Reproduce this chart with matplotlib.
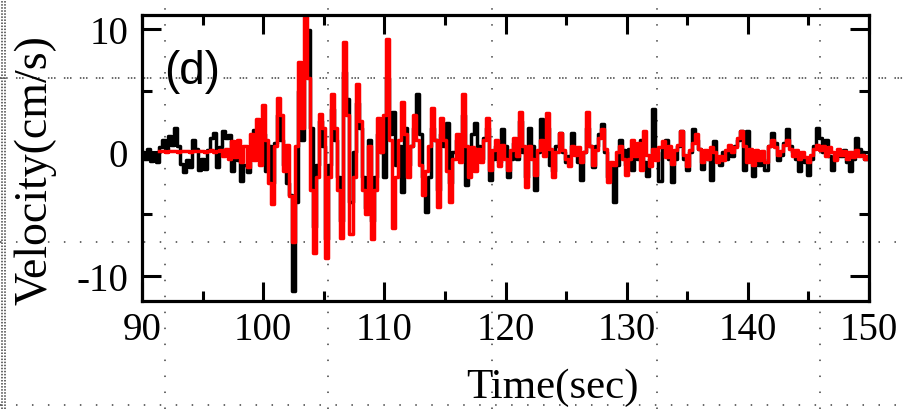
import numpy as np
import matplotlib
matplotlib.use("Agg")
import matplotlib.pyplot as plt
from matplotlib.lines import Line2D
from matplotlib.ticker import MultipleLocator

plt.rcParams['axes.unicode_minus'] = False
plt.rcParams['lines.scale_dashes'] = False

# time axis, 0.25 s samples
time = np.arange(90.0, 150.01, 0.25)

# black trace (cm/s), one row per 5 s
black_vel = [
    0.0, -0.5, 0.3, -0.7, -0.2, -0.8, 0.4, 1.0, 0.2, 1.3, 0.6, 2.0, 0.5, -0.9, -1.6, -0.6, -1.2, 1.0, 0.3, -1.4,
    -0.5, -1.3, 0.2, 1.2, 1.6, -1.2, 0.4, 1.7, 1.2, 1.4, -1.5, 0.8, -0.6, -2.3, -1.0, -1.6, 0.5, 1.8, 1.2, 2.0,
    1.5, -1.5, 0.5, -2.5, 0.8, 3.0, 1.0, -1.0, -2.5, -3.4, -11.2, -4.0, 5.0, 1.0, 7.0, 9.9, 2.0, -6.0, -1.0, 2.5,
    0.5, -7.0, -1.0, 3.5, 1.0, -2.0, -5.5, 6.5, 4.3, -4.0, 0.0, 4.0, 2.0, -2.0, -4.5, 1.0, -5.5, -2.0, 1.5, 0.0,
    -2.0, 6.0, 1.5, 3.3, -1.0, 0.5, -3.2, 2.0, -1.0, 0.5, 2.0, 4.7, 1.5, -2.0, -4.8, -2.0, 2.0, 1.0, -3.0, 1.5,
    0.5, 2.4, -2.5, 0.0, 1.0, -0.5, 3.0, -2.6, -1.0, 1.5, 2.4, 0.5, -0.5, 1.2, 2.0, -2.2, -0.5, 0.5, -0.8, 1.9,
    0.5, -2.0, -0.5, 0.8, -0.5, 2.5, 0.0, -2.0, 2.0, 0.5, -3.0, 0.0, 2.7, 0.5, 2.0, -1.0, -1.5, 0.5, 1.6, 0.0,
    -0.8, -0.3, 1.6, 0.2, -0.8, -2.2, 0.0, 2.0, 0.5, -1.2, 0.5, 1.5, 2.3, 0.0, -2.0, -1.0, -4.0, -1.0, 1.0, 0.2,
    -1.0, 0.3, -1.4, 0.5, -0.5, 1.0, -0.8, -1.9, -0.5, 3.5, 0.0, -2.3, 0.5, 1.0, -0.5, -2.4, -0.5, 0.5, 1.7, -0.5,
    -1.4, 0.0, 1.9, 1.0, 0.3, -1.3, 0.0, -0.5, -2.2, 0.9, -0.5, -1.0, 0.0, -0.5, 0.3, -0.3, 0.5, 1.0, 1.7, -1.4,
    1.7, -0.5, -1.9, 0.0, -1.0, -0.5, -1.4, 0.5, 1.6, 0.8, -0.6, -0.2, 0.8, 1.9, 0.5, 0.0, -0.5, -1.5, -0.3, -0.8,
    -1.8, -0.5, 0.5, 2.0, 1.2, 0.0, 1.0, -0.3, -1.4, -0.5, 0.0, -0.3, 0.2, -0.8, -1.5, -0.5, 1.2, 0.3, 0.0, -0.5,
    -0.3,
]

# red trace (cm/s), starts a little after 91 s
red_vel = [
    np.nan, np.nan, np.nan, np.nan, np.nan, np.nan, 0.1, 0.1, 0.0, 0.1, 0.1, 0.1, 0.0, 0.1, 0.1, 0.1, 0.0, 0.1, 0.1, 0.1,
    0.1, 0.0, 0.1, 0.2, 0.0, 0.1, 0.2, -0.3, 0.3, -0.5, 0.9, -0.4, 1.0, -0.8, 0.5, -1.2, 1.5, -0.6, 2.7, -1.0,
    3.8, 1.0, -2.5, -4.2, 0.5, 4.4, 3.0, -1.5, 0.6, -3.5, -7.2, 0.5, 7.3, 2.0, 10.9, 6.0, -3.0, -8.1, -2.0, 3.1,
    2.0, -8.5, -2.0, 4.7, 2.0, -3.0, -6.9, 8.9, 3.0, -6.6, -2.0, 5.5, 2.5, -3.0, -5.0, 0.5, -7.0, -3.0, 2.8, 0.0,
    3.0, 9.2, 1.0, -6.1, -2.0, 1.0, 4.1, 1.5, -2.0, 0.5, 3.0, 1.0, -1.0, -3.4, -1.5, 0.5, 3.6, 1.0, -4.4, 2.8,
    1.0, -1.5, -4.0, -0.5, 1.5, -0.8, 4.7, 0.5, -2.0, 0.4, -1.5, 0.3, -0.8, 1.0, 2.8, -1.4, 0.2, 1.0, -1.1, 0.6,
    -0.5, -1.4, 0.2, 1.2, -0.3, 3.3, 0.5, -2.8, 0.5, -0.5, -1.8, 0.2, 1.0, -0.3, 3.2, 0.3, -2.0, 0.0, 1.6, 0.2,
    -0.5, -1.1, 0.5, -0.2, 0.4, -0.8, 0.0, 3.3, 0.5, -1.0, 0.2, 1.2, 1.9, 0.3, -2.4, -0.8, -1.0, 0.0, 0.5, -0.5,
    -1.8, -0.5, 1.0, -0.3, 0.8, -1.4, 1.7, -0.2, -1.1, 0.3, -0.6, 0.4, 0.9, -0.4, 0.5, -0.9, 0.2, 0.6, 1.7, -0.2,
    -1.1, 0.2, 0.8, 1.5, 0.3, -0.8, 0.2, -0.5, 0.4, 0.0, -0.8, -0.3, -0.6, 0.2, 0.6, 0.0, 0.4, 1.2, 1.7, 0.5,
    -0.8, 0.3, -1.0, 0.2, -0.6, 0.1, -0.8, 0.5, 1.0, 0.4, -0.2, 0.1, 0.6, 1.0, 0.3, -0.3, 0.2, -0.5, 0.0, -0.4,
    -0.8, -0.2, 0.3, 0.6, 0.2, 0.5, -0.3, 0.4, 0.0, -0.6, 0.3, -0.2, 0.1, -0.5, 0.0, -0.4, 0.2, -0.3, -0.2, -0.5,
    -0.3,
]

x_ticks = [90, 100, 110, 120, 130, 140, 150]
y_ticks = [-10, 0, 10]

fig = plt.figure(figsize=(9.08, 4.10), dpi=100)

# dotted page grid behind the chart
W, H = 908.0, 410.0
grid_kw = dict(color='#404040', linewidth=1.1, zorder=-5)
for xp in [165, 328, 492, 657, 820]:
    fig.add_artist(Line2D([xp / W, xp / W], [0, 1], dashes=(1.1, 10.4), **grid_kw))
for xp in [2, 5]:
    fig.add_artist(Line2D([xp / W, xp / W], [0, 1], dashes=(1.1, 1.1), **grid_kw))
fig.add_artist(Line2D([0, 1], [1 - 79 / H] * 2, dashes=(1.1, 1.1, 1.1, 1.1, 1.1, 6.0), **grid_kw))
fig.add_artist(Line2D([0, 1], [1 - 243 / H] * 2, dashes=(1.1, 10.4), **grid_kw))
fig.add_artist(Line2D([0, 1], [1 - 406 / H] * 2, dashes=(1.1, 10.4), **grid_kw))

ax = fig.add_axes([142 / W, 1 - 302 / H, 727 / W, 286 / H])
ax.patch.set_visible(False)

ax.plot(time, black_vel, color='black', linewidth=2.5, drawstyle='steps-mid')
ax.plot(time, red_vel, color='#ff0000', linewidth=2.5, drawstyle='steps-mid')

ax.set_xlim(90, 150)
ax.set_ylim(-12.0, 11.1)
ax.set_xticks(x_ticks)
ax.set_yticks(y_ticks)
ax.xaxis.set_minor_locator(MultipleLocator(5))
ax.yaxis.set_minor_locator(MultipleLocator(5))

for s in ax.spines.values():
    s.set_linewidth(2.3)
ax.tick_params(which='both', direction='in', top=True, right=True, width=2.2)
ax.tick_params(which='major', length=14)
ax.tick_params(which='minor', length=7)
ax.tick_params(axis='x', which='major', pad=7)
ax.tick_params(axis='y', which='major', pad=10)
for lab in ax.get_xticklabels() + ax.get_yticklabels():
    lab.set_fontfamily('Liberation Serif')
    lab.set_fontsize(28)

ax.text(0.03, 0.88, '(d)', transform=ax.transAxes, fontsize=33,
        family='Liberation Sans', ha='left', va='top')

fig.text(35 / W, 1 - 170 / H, 'Velocity(cm/s)', rotation=90, ha='center', va='center',
         fontsize=33, family='Liberation Serif')
fig.text(552 / W, 1 - 398 / H, 'Time(sec)', ha='center', va='baseline',
         fontsize=31, family='Liberation Serif')

fig.savefig('out.png', dpi=100)
